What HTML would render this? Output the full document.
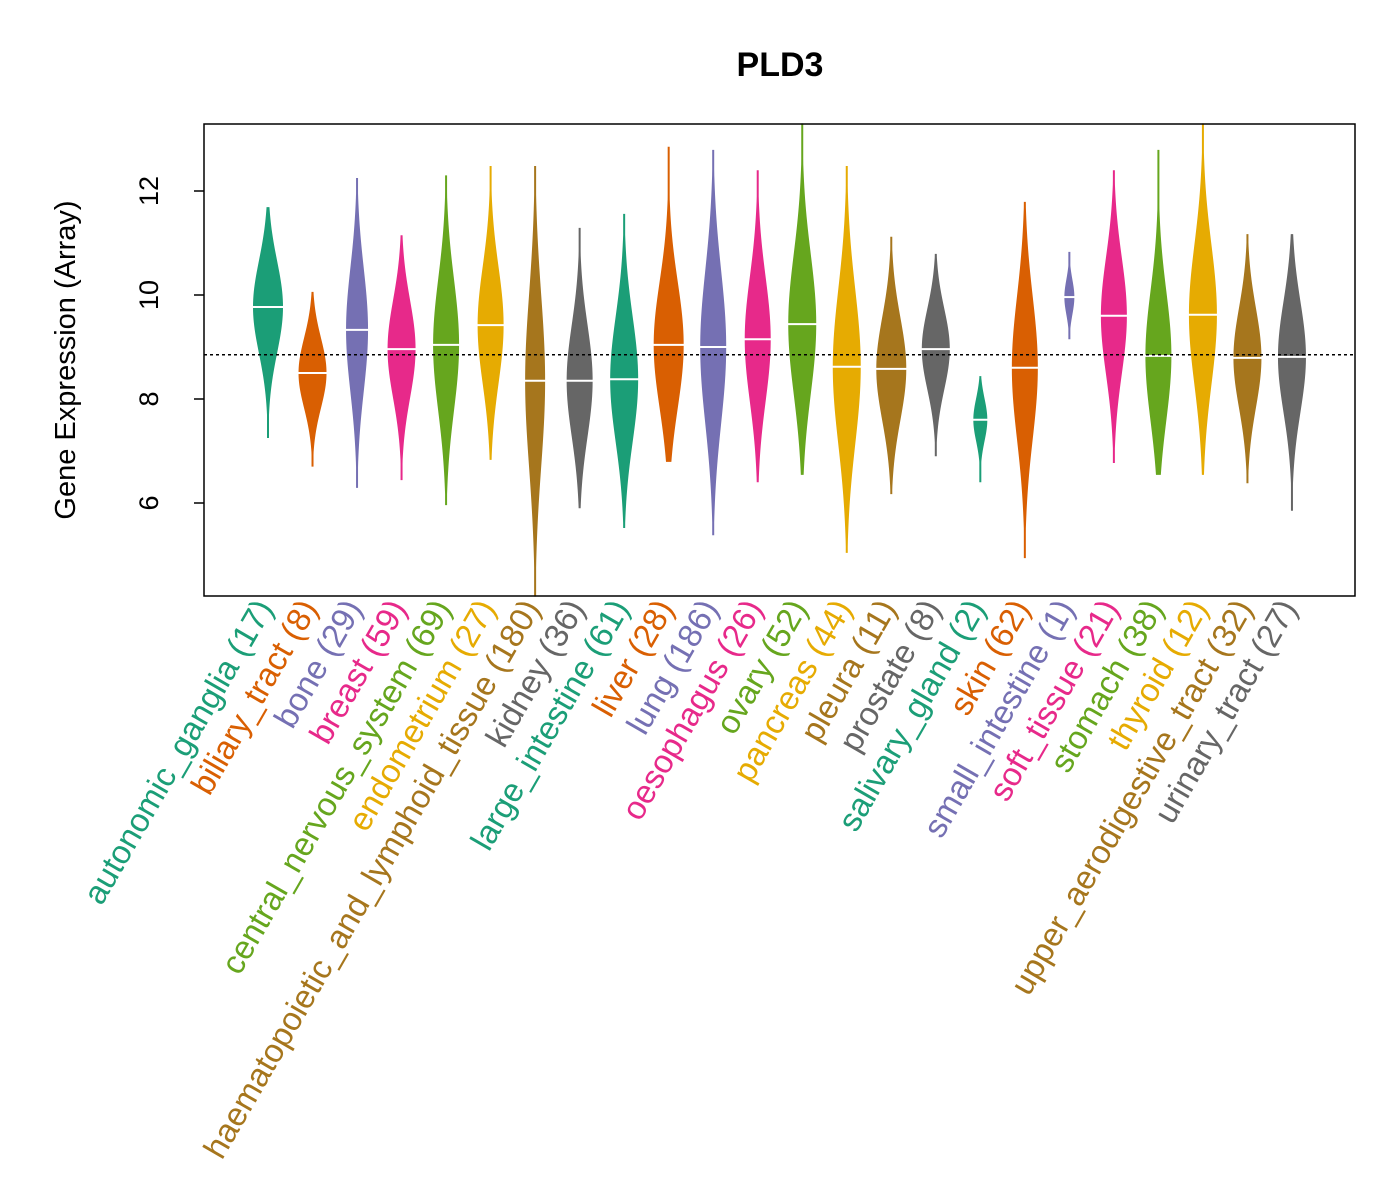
<!DOCTYPE html>
<html><head><meta charset="utf-8"><style>
body{margin:0;background:#fff}
svg{display:block;font-family:"Liberation Sans",Arial,sans-serif}
</style></head><body>
<svg id="chart" width="1400" height="1200" viewBox="0 0 1400 1200" xmlns="http://www.w3.org/2000/svg">
<text x="780" y="76" text-anchor="middle" font-size="34" font-weight="bold">PLD3</text>
<text transform="translate(75,360) rotate(-90)" text-anchor="middle" font-size="29">Gene Expression (Array)</text>
<g id="beans"></g>
<rect x="204" y="124" width="1151" height="472" fill="none" stroke="#000" stroke-width="1.5"/>
<g id="axis"></g>
<g id="labels"></g>
</svg>
<script>
const categories=["autonomic_ganglia","biliary_tract","bone","breast","central_nervous_system","endometrium","haematopoietic_and_lymphoid_tissue","kidney","large_intestine","liver","lung","oesophagus","ovary","pancreas","pleura","prostate","salivary_gland","skin","small_intestine","soft_tissue","stomach","thyroid","upper_aerodigestive_tract","urinary_tract"];
const counts=[17,8,29,59,69,27,180,36,61,28,186,26,52,44,11,8,2,62,1,21,38,12,32,27];
const minVals=[7.25,6.7,6.29,6.44,5.96,6.83,4.2,5.9,5.52,6.79,5.38,6.4,6.54,5.04,6.17,6.9,6.4,4.94,9.15,6.77,6.54,6.54,6.38,5.85];
const maxVals=[11.69,10.06,12.25,11.15,12.3,12.48,12.48,11.29,11.56,12.85,12.79,12.4,13.3,12.48,11.12,10.79,8.44,11.79,10.83,12.4,12.79,13.3,11.17,11.17];
const meanVals=[9.77,8.5,9.33,8.96,9.04,9.42,8.35,8.35,8.38,9.04,9.0,9.15,9.44,8.62,8.58,8.96,7.6,8.6,9.96,9.6,8.83,9.62,8.79,8.81];
const widths=[15,14,11,14,13,13,10,13,14,15,13,13,14,14,15,14,7,13,5,13,13,14,14,14];
const yTicks=[6,8,10,12];
const overallMean=8.85;
const colors=["#1B9E77","#D95F02","#7570B3","#E7298A","#66A61E","#E6AB02","#A6761D","#666666"];
const NS="http://www.w3.org/2000/svg";
const yS=v=>295-(v-10)*52;
const xS=i=>268+i*44.52;
const beans=document.getElementById('beans');
categories.forEach((c,i)=>{
  const col=colors[i%8],x=xS(i);
  const lo=minVals[i],hi=maxVals[i],m=meanVals[i],sd=(hi-lo)/5,hw=widths[i];
  let L=[],R=[];
  for(let k=0;k<=60;k++){const v=lo+(hi-lo)*k/60;const w=Math.max(1,hw*Math.exp(-0.5*((v-m)/sd)**2));L.push([x-w,yS(v)]);R.push([x+w,yS(v)]);}
  const d="M"+L.map(p=>p.join(',')).join(' L')+" L"+R.reverse().map(p=>p.join(',')).join(' L')+"Z";
  const p=document.createElementNS(NS,'path');p.setAttribute('d',d);p.setAttribute('fill',col);
  
  
  beans.appendChild(p);
  const ml=document.createElementNS(NS,'line');
  ml.setAttribute('x1',x-hw-2);ml.setAttribute('x2',x+hw+2);ml.setAttribute('y1',yS(m));ml.setAttribute('y2',yS(m));ml.setAttribute('stroke','#fff');ml.setAttribute('stroke-width','2');
  
  
  beans.appendChild(ml);
  const t=document.createElementNS(NS,'text');
  t.setAttribute('transform',`translate(${x+6},608) rotate(-60)`);t.setAttribute('text-anchor','end');t.setAttribute('font-size','33');t.setAttribute('fill',col);
  t.textContent=c+" ("+counts[i]+")";
  
  
  document.getElementById('labels').appendChild(t);
});
const ml=document.createElementNS(NS,'line');
ml.setAttribute('x1',204);ml.setAttribute('x2',1355);ml.setAttribute('y1',yS(overallMean));ml.setAttribute('y2',yS(overallMean));ml.setAttribute('stroke','#000');ml.setAttribute('stroke-width','1.5');ml.setAttribute('stroke-dasharray','3,3');


beans.appendChild(ml);
const ax=document.getElementById('axis');
yTicks.forEach(v=>{
  const l=document.createElementNS(NS,'line');l.setAttribute('x1',194);l.setAttribute('x2',204);l.setAttribute('y1',yS(v));l.setAttribute('y2',yS(v));l.setAttribute('stroke','#000');l.setAttribute('stroke-width','1.5');
  
  
  ax.appendChild(l);
  const t=document.createElementNS(NS,'text');t.setAttribute('transform',`translate(158,${yS(v)}) rotate(-90)`);t.setAttribute('text-anchor','middle');t.setAttribute('font-size','27');t.textContent=v;
  
  
  ax.appendChild(t);
});
</script>
</body></html>
